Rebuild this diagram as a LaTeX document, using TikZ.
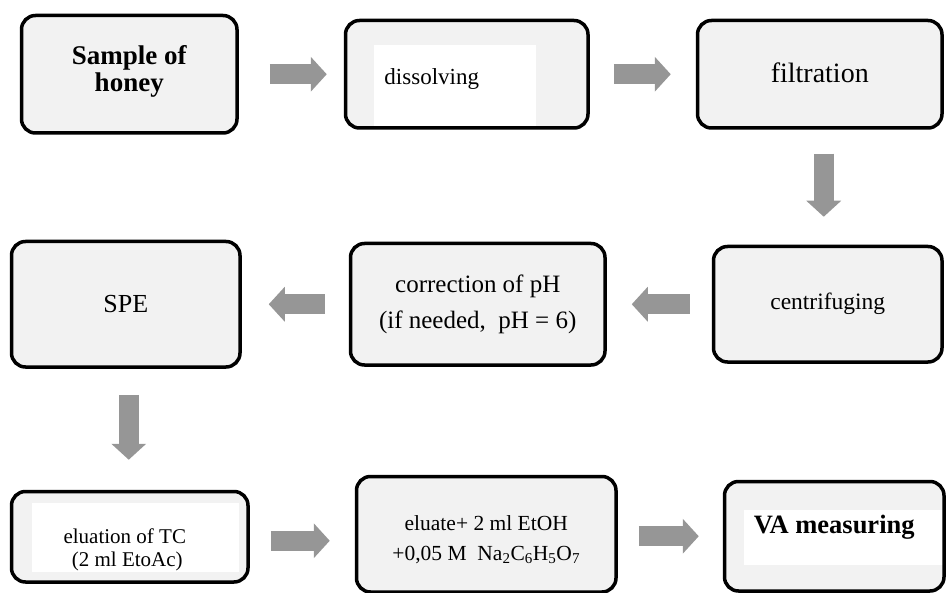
\documentclass[tikz,border=0pt]{standalone}
\usepackage{fontspec}
\setmainfont{Liberation Serif}
\usetikzlibrary{arrows.meta}
\definecolor{boxfill}{HTML}{F2F2F2}
\definecolor{arrgray}{HTML}{969696}

\begin{document}
\begin{tikzpicture}[x=1pt,y=-1pt,
  stepbox/.style={draw, line width=3.5pt, rounded corners=14pt, fill=boxfill, anchor=north west, inner sep=0pt},
  steptext/.style={align=center, inner sep=0pt},
  flowarr/.style={draw=arrgray, line width=20pt, -{Triangle[length=16pt,width=34pt]}}
]
\useasboundingbox (0,0) rectangle (947,593);
\begin{scope}
\clip (0,0) rectangle (947,593);
% boxes of the procedure
\node[stepbox, minimum width=215.5pt, minimum height=117.5pt] (honey) at (19.75,13.75) {};
\node[stepbox, minimum width=242.5pt, minimum height=107.5pt,
  path picture={\fill[white, sharp corners] ([xshift=28.25pt,yshift=1.25pt]path picture bounding box.south west)
    rectangle ([xshift=-52.25pt,yshift=-24.25pt]path picture bounding box.north east);}] (diss) at (343.75,18.75) {};
\node[stepbox, minimum width=244.5pt, minimum height=107.5pt] (filt) at (695.75,18.75) {};
\node[stepbox, minimum width=228.5pt, minimum height=125.5pt] (spe) at (9.75,239.75) {};
\node[stepbox, minimum width=254.5pt, minimum height=121.5pt] (corr) at (348.75,241.75) {};
\node[stepbox, minimum width=228.5pt, minimum height=115.5pt] (centr) at (711.75,244.75) {};
\node[stepbox, minimum width=236.5pt, minimum height=90.5pt,
  path picture={\fill[white, sharp corners] ([xshift=20.25pt,yshift=10.25pt]path picture bounding box.south west)
    rectangle ([xshift=-9.25pt,yshift=-11.25pt]path picture bounding box.north east);}] (elut) at (9.75,489.75) {};
\node[stepbox, minimum width=259.5pt, minimum height=115.5pt] (eluate) at (354.75,474.75) {};
\node[stepbox, minimum width=219.5pt, minimum height=109.5pt,
  path picture={\fill[white, sharp corners] ([xshift=19.25pt,yshift=26.25pt]path picture bounding box.south west)
    rectangle ([xshift=-0.25pt,yshift=-28.25pt]path picture bounding box.north east);}] (va) at (722.75,479.75) {};
\end{scope}
% texts
\node[steptext, font=\fontsize{27}{27}\selectfont\bfseries] (honey-t) at ([yshift=2.5pt]honey.center) {Sample of\\honey};
\node[steptext, font=\fontsize{23}{26}\selectfont] (diss-t) at ([xshift=-35pt,yshift=-4.5pt]diss.center) {dissolving};
\node[steptext, font=\fontsize{28}{32}\selectfont] (filt-t) at ([yshift=1.5pt]filt.center) {filtration};
\node[steptext, font=\fontsize{26}{30}\selectfont] (spe-t) at (spe.center) {SPE};
\node[steptext, font=\fontsize{25}{36}\selectfont] (corr-t) at (corr.center) {correction of pH\\(if needed,\ \ pH = 6)};
\node[steptext, font=\fontsize{23.5}{27}\selectfont] (centr-t) at (centr.center) {centrifuging};
\node[steptext, font=\fontsize{21}{23}\selectfont] (elut-t) at ([xshift=-5pt,yshift=-13pt]elut.center) {eluation of TC\\\hspace{5pt}(2 ml EtoAc)};
\node[steptext, font=\fontsize{21.5}{30}\selectfont] (eluate-t) at ([yshift=-5.5pt]eluate.center) {eluate+ 2 ml EtOH\\+0,05 M\ \ Na\textsubscript{2}C\textsubscript{6}H\textsubscript{5}O\textsubscript{7}};
\node[steptext, font=\fontsize{26.5}{30}\selectfont\bfseries] (va-t) at ([yshift=9.5pt]va.center) {VA measuring};
% block arrows
\draw[flowarr, shorten <=31pt, shorten >=17pt] (honey.east) -- (honey.east -| diss.west);
\draw[flowarr, shorten <=24pt, shorten >=25pt] (diss.east) -- (filt.west);
\draw[flowarr, shorten <=24pt, shorten >=28pt] ([xshift=4pt]filt.south) -- ([xshift=-4pt]centr.north);
\draw[flowarr, shorten <=22pt, shorten >=25pt] (centr.west) -- (corr.east);
\draw[flowarr, shorten <=24pt, shorten >=27pt] (corr.west) -- (spe.east);
\draw[flowarr, shorten <=26pt, shorten >=30pt] ([xshift=3pt]spe.south) -- ([xshift=-1pt]elut.north);
\draw[flowarr, shorten <=21pt, shorten >=25pt] ([yshift=-4pt]elut.east) -- ([yshift=-4pt]elut.east -| eluate.west);
\draw[flowarr, shorten <=21pt, shorten >=24pt] ([yshift=-2pt]eluate.east) -- ([yshift=-2pt]eluate.east -| va.west);
\end{tikzpicture}
\end{document}
